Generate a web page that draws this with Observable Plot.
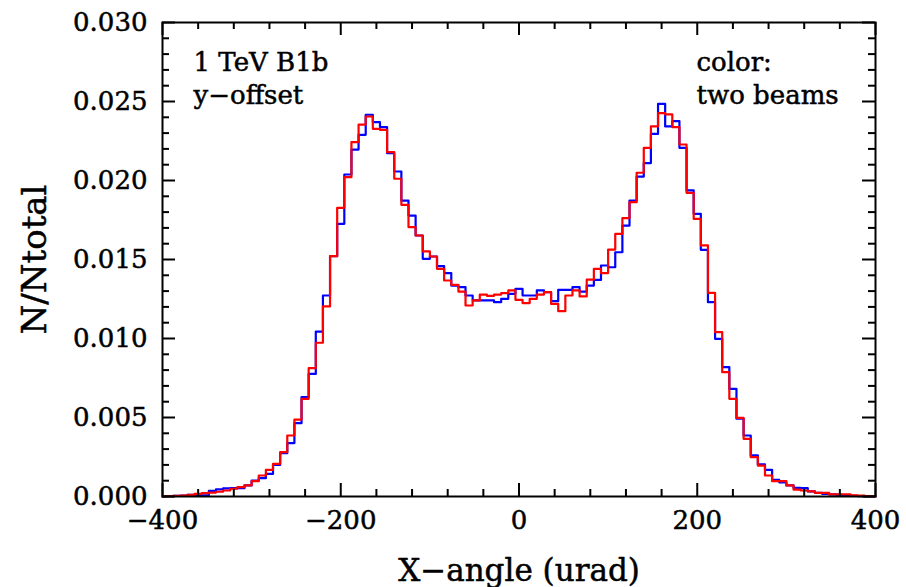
<!DOCTYPE html>
<html>
<head>
<meta charset="utf-8">
<script src="https://cdn.jsdelivr.net/npm/d3@7"></script>
<script src="https://cdn.jsdelivr.net/npm/@observablehq/plot@0.6"></script>
<style>
  html, body { margin: 0; padding: 0; background: #fff; }
  #chart { width: 906px; height: 587px; }
</style>
</head>
<body>
<div id="chart"></div>
<script>
// Bin centres (urad): 101 bins of width 8 centred on multiples of 8
const binStart = -400, binWidth = 8, binCount = 101;
const binCenters = d3.range(binCount).map(i => binStart + i * binWidth);

// Beam 1 (blue) N/Ntotal
const blueValues = [
  0.00000, 0.00002, 0.00004, 0.00006, 0.00010, 0.00008, 0.00008, 0.00035, 0.00045, 0.00052,
  0.00053, 0.00053, 0.00070, 0.00100, 0.00116, 0.00143, 0.00200, 0.00274, 0.00338, 0.00464,
  0.00629, 0.00776, 0.01044, 0.01272, 0.01521, 0.01726, 0.02038, 0.02196, 0.02289, 0.02416,
  0.02369, 0.02338, 0.02173, 0.02057, 0.01873, 0.01778, 0.01652, 0.01504, 0.01519, 0.01458,
  0.01414, 0.01335, 0.01325, 0.01272, 0.01241, 0.01241, 0.01241, 0.01230, 0.01251, 0.01283,
  0.01314, 0.01272, 0.01272, 0.01304, 0.01293, 0.01236, 0.01308, 0.01308, 0.01325, 0.01297,
  0.01335, 0.01371, 0.01462, 0.01451, 0.01546, 0.01715, 0.01873, 0.02025, 0.02110, 0.02295,
  0.02485, 0.02342, 0.02376, 0.02207, 0.01937, 0.01789, 0.01561, 0.01230, 0.00998, 0.00819,
  0.00681, 0.00492, 0.00386, 0.00260, 0.00203, 0.00169, 0.00105, 0.00090, 0.00070, 0.00055,
  0.00053, 0.00032, 0.00023, 0.00017, 0.00013, 0.00010, 0.00006, 0.00004, 0.00002, 0.00000,
  0.00000
];

// Beam 2 (red) N/Ntotal
const redValues = [
  0.00000, 0.00002, 0.00004, 0.00006, 0.00010, 0.00017, 0.00021, 0.00025, 0.00030, 0.00038,
  0.00049, 0.00059, 0.00070, 0.00097, 0.00133, 0.00169, 0.00207, 0.00281, 0.00386, 0.00487,
  0.00618, 0.00812, 0.00973, 0.01203, 0.01521, 0.01827, 0.02021, 0.02243, 0.02354, 0.02405,
  0.02327, 0.02321, 0.02179, 0.02011, 0.01846, 0.01705, 0.01652, 0.01551, 0.01519, 0.01441,
  0.01367, 0.01340, 0.01297, 0.01209, 0.01241, 0.01278, 0.01270, 0.01278, 0.01287, 0.01304,
  0.01245, 0.01224, 0.01251, 0.01278, 0.01293, 0.01219, 0.01173, 0.01272, 0.01304, 0.01266,
  0.01373, 0.01441, 0.01414, 0.01563, 0.01662, 0.01762, 0.01863, 0.02049, 0.02207, 0.02342,
  0.02426, 0.02418, 0.02338, 0.02228, 0.01922, 0.01757, 0.01589, 0.01289, 0.01040, 0.00787,
  0.00618, 0.00498, 0.00365, 0.00249, 0.00196, 0.00133, 0.00097, 0.00097, 0.00070, 0.00044,
  0.00038, 0.00032, 0.00023, 0.00023, 0.00013, 0.00013, 0.00013, 0.00008, 0.00005, 0.00002,
  0.00000
];

// Tick values
const xMajorTicks = [-400, -200, 0, 200, 400];
const xMinorTicks = [-360, -320, -280, -240, -160, -120, -80, -40, 40, 80, 120, 160, 240, 280, 320, 360];
const yMajorTicks = [0, 0.005, 0.010, 0.015, 0.020, 0.025, 0.030];
const yMinorTicks = [0.001, 0.002, 0.003, 0.004, 0.006, 0.007, 0.008, 0.009, 0.011, 0.012, 0.013, 0.014,
  0.016, 0.017, 0.018, 0.019, 0.021, 0.022, 0.023, 0.024, 0.026, 0.027, 0.028, 0.029];

const xLabel = "X\u2212angle (urad)";
const yLabel = "N/Ntotal";
const leftNotes = ["1 TeV B1b", "y\u2212offset"];
const rightNotes = ["color:", "two beams"];

const data = binCenters.map((x, i) => ({x, blue: blueValues[i], red: redValues[i]}));

const W = 906, H = 587;
const mL = 162, mR = 31, mT = 22, mB = 91;
const fw = W - mL - mR, fh = H - mT - mB;
const majorLen = 13, minorLen = 7;
const font = "DejaVu Serif";
const fmtX = d3.format("d");
const fmtY = d3.format(".3f");
const txt = {fill: "black", stroke: "black", strokeWidth: 0.5, fontFamily: font};

const chart = Plot.plot({
  width: W,
  height: H,
  marginLeft: mL,
  marginRight: mR,
  marginTop: mT,
  marginBottom: mB,
  style: {fontFamily: font, fontSize: "26px", color: "black", background: "white"},
  x: {domain: [-400, 400], axis: null},
  y: {domain: [0, 0.03], axis: null},
  marks: [
    // histograms
    Plot.line(data, {x: "x", y: "blue", curve: "step", stroke: "#0000ff", strokeWidth: 2.2}),
    Plot.line(data, {x: "x", y: "red", curve: "step", stroke: "#ff0000", strokeWidth: 2.2}),
    // inward ticks: bottom & top
    Plot.tickX(xMajorTicks, {x: d => d, stroke: "black", strokeWidth: 2, insetTop: fh - majorLen}),
    Plot.tickX(xMajorTicks, {x: d => d, stroke: "black", strokeWidth: 2, insetBottom: fh - majorLen}),
    Plot.tickX(xMinorTicks, {x: d => d, stroke: "black", strokeWidth: 2, insetTop: fh - minorLen}),
    Plot.tickX(xMinorTicks, {x: d => d, stroke: "black", strokeWidth: 2, insetBottom: fh - minorLen}),
    // inward ticks: left & right
    Plot.tickY(yMajorTicks, {y: d => d, stroke: "black", strokeWidth: 2, insetRight: fw - majorLen}),
    Plot.tickY(yMajorTicks, {y: d => d, stroke: "black", strokeWidth: 2, insetLeft: fw - majorLen}),
    Plot.tickY(yMinorTicks, {y: d => d, stroke: "black", strokeWidth: 2, insetRight: fw - minorLen}),
    Plot.tickY(yMinorTicks, {y: d => d, stroke: "black", strokeWidth: 2, insetLeft: fw - minorLen}),
    Plot.frame({stroke: "black", strokeWidth: 2}),
    // tick labels
    Plot.text(xMajorTicks, {...txt, x: d => d, frameAnchor: "bottom", dy: 24, lineAnchor: "middle", textAnchor: "middle", text: d => fmtX(d), fontSize: 26}),
    Plot.text(yMajorTicks, {...txt, y: d => d, frameAnchor: "left", dx: -15, lineAnchor: "middle", textAnchor: "end", text: d => fmtY(d), fontSize: 26}),
    // axis labels
    Plot.text([xLabel], {...txt, frameAnchor: "bottom", dy: 75, lineAnchor: "middle", textAnchor: "middle", text: d => d, fontSize: 31}),
    Plot.text([yLabel], {...txt, frameAnchor: "left", dx: -127, rotate: -90, lineAnchor: "middle", textAnchor: "middle", text: d => d, fontSize: 34}),
    // annotations
    Plot.text([leftNotes[0]], {...txt, frameAnchor: "top-left", dx: 31, dy: 40, lineAnchor: "middle", textAnchor: "start", text: d => d, fontSize: 26}),
    Plot.text([leftNotes[1]], {...txt, frameAnchor: "top-left", dx: 31, dy: 73, lineAnchor: "middle", textAnchor: "start", text: d => d, fontSize: 26}),
    Plot.text([rightNotes[0]], {...txt, frameAnchor: "top-right", dx: -179, dy: 40, lineAnchor: "middle", textAnchor: "start", text: d => d, fontSize: 26}),
    Plot.text([rightNotes[1]], {...txt, frameAnchor: "top-right", dx: -179, dy: 73, lineAnchor: "middle", textAnchor: "start", text: d => d, fontSize: 26})
  ]
});

document.getElementById("chart").append(chart);
</script>
</body>
</html>
